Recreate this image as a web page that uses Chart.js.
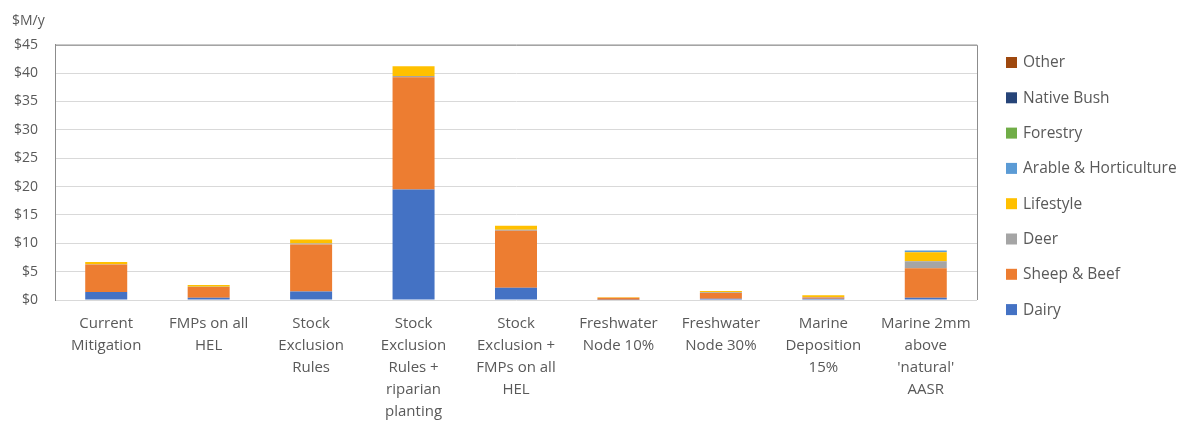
<!DOCTYPE html>
<html>
<head>
<meta charset="utf-8">
<script src="https://cdn.jsdelivr.net/npm/chart.js@4.4.1/dist/chart.umd.min.js"></script>
<style>
  html, body { margin: 0; padding: 0; background: #fff; }
  #wrap { position: relative; width: 1187px; height: 421px; }
</style>
</head>
<body>
<div id="wrap"><canvas id="costChart" width="1187" height="421"></canvas></div>
<script>
  'use strict';

  /* Scenario cost by land use ($M/y) */
  var scenarios = [
    ['Current', 'Mitigation'],
    ['FMPs on all', 'HEL'],
    ['Stock', 'Exclusion', 'Rules'],
    ['Stock', 'Exclusion', 'Rules +', 'riparian', 'planting'],
    ['Stock', 'Exclusion +', 'FMPs on all', 'HEL'],
    ['Freshwater', 'Node 10%'],
    ['Freshwater', 'Node 30%'],
    ['Marine', 'Deposition', '15%'],
    ['Marine 2mm', 'above', '\'natural\'', 'AASR']
  ];

  var dairy      = [1.4, 0.4, 1.5, 19.5, 2.15, 0.03, 0.2, 0.2, 0.4];
  var sheepBeef  = [4.85, 1.9, 8.3, 19.8, 10.05, 0.35, 1.05, 0.25, 5.2];
  var deer       = [0.05, 0.05, 0.15, 0.2, 0.2, 0.0, 0.1, 0.1, 1.25];
  var lifestyle  = [0.4, 0.3, 0.7, 1.7, 0.7, 0.12, 0.25, 0.3, 1.55];
  var arableHort = [0, 0, 0, 0, 0, 0, 0, 0, 0.35];
  var forestry   = [0, 0, 0, 0, 0, 0, 0, 0, 0];
  var nativeBush = [0, 0, 0, 0, 0, 0, 0, 0, 0];
  var other      = [0, 0, 0, 0, 0, 0, 0, 0, 0];

  var yTicks = [0, 5, 10, 15, 20, 25, 30, 35, 40, 45];

  var textColor = '#595959';
  var fontFamily = "'Open Sans', 'Noto Sans', sans-serif";

  var series = [
    { label: 'Dairy', data: dairy, color: '#4472C4' },
    { label: 'Sheep & Beef', data: sheepBeef, color: '#ED7D31' },
    { label: 'Deer', data: deer, color: '#A5A5A5' },
    { label: 'Lifestyle', data: lifestyle, color: '#FFC000' },
    { label: 'Arable & Horticulture', data: arableHort, color: '#5B9BD5' },
    { label: 'Forestry', data: forestry, color: '#70AD47' },
    { label: 'Native Bush', data: nativeBush, color: '#264478' },
    { label: 'Other', data: other, color: '#9E480E' }
  ];

  // Plot frame: top and right edges (left comes from the y axis border)
  var framePlugin = {
    id: 'plotFrame',
    afterDraw: function (chart) {
      var a = chart.chartArea;
      var c = chart.ctx;
      c.save();
      c.strokeStyle = '#8c8c8c';
      c.lineWidth = 1;
      c.beginPath();
      c.moveTo(a.left, a.top + 0.5);
      c.lineTo(a.right + 0.5, a.top + 0.5);
      c.lineTo(a.right + 0.5, a.bottom);
      c.stroke();
      c.restore();
    }
  };

  // Legend listed on the right, last series first
  var sideLegend = {
    id: 'sideLegend',
    afterDraw: function (chart) {
      var c = chart.ctx;
      var ds = chart.data.datasets;
      c.save();
      c.font = '15.5px ' + fontFamily;
      c.textBaseline = 'middle';
      c.textAlign = 'left';
      for (var i = ds.length - 1, row = 0; i >= 0; i--, row++) {
        var y = 62 + row * 35.3;
        c.fillStyle = ds[i].backgroundColor;
        c.fillRect(1006, y - 5, 11, 11);
        c.fillStyle = textColor;
        c.fillText(ds[i].label, 1023, y + 1);
      }
      c.restore();
    }
  };

  new Chart(document.getElementById('costChart'), {
    type: 'bar',
    data: {
      labels: scenarios,
      datasets: series.map(function (s) {
        return {
          label: s.label,
          data: s.data,
          backgroundColor: s.color,
          borderWidth: 0,
          categoryPercentage: 1,
          barPercentage: 0.41
        };
      })
    },
    options: {
      responsive: false,
      animation: false,
      layout: { padding: { left: 12, right: 210, top: 0, bottom: 0 } },
      plugins: {
        legend: { display: false },
        tooltip: { enabled: false },
        title: {
          display: true,
          text: '$M/y',
          align: 'start',
          color: textColor,
          font: { family: fontFamily, size: 14, weight: 'normal' },
          padding: { top: 13, bottom: 15 }
        }
      },
      scales: {
        x: {
          stacked: true,
          grid: { display: false, drawTicks: false },
          border: { display: false },
          ticks: {
            color: textColor,
            font: { family: fontFamily, size: 15, lineHeight: 1.47 },
            padding: 13,
            maxRotation: 0,
            autoSkip: false
          },
          afterFit: function (s) { s.height = 121; }
        },
        y: {
          stacked: true,
          min: 0,
          max: 45,
          afterBuildTicks: function (s) {
            s.ticks = yTicks.map(function (v) { return { value: v }; });
          },
          grid: { color: '#d9d9d9', lineWidth: 1, drawTicks: false },
          border: { display: true, color: '#8c8c8c' },
          ticks: {
            color: textColor,
            font: { family: fontFamily, size: 14 },
            padding: 17,
            callback: function (v) { return '$' + v; }
          },
          afterFit: function (s) { s.width = 43; }
        }
      }
    },
    plugins: [framePlugin, sideLegend]
  });
</script>
</body>
</html>
